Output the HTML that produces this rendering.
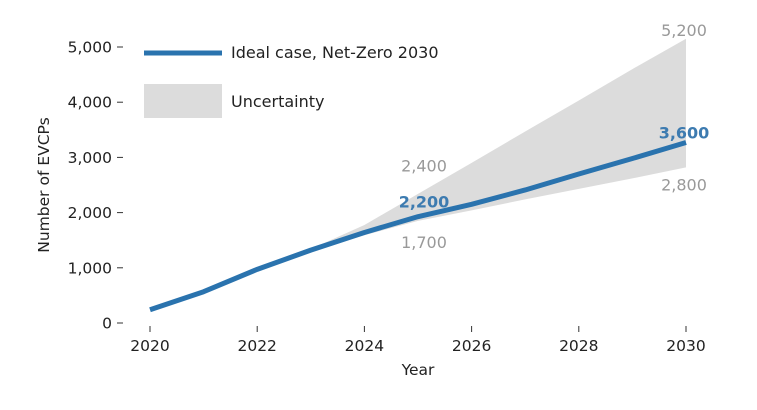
<!DOCTYPE html>
<html><head><meta charset="utf-8"><style>
body{margin:0;background:#fff;}
svg text{font-family:"DejaVu Sans","Liberation Sans",sans-serif;}
</style></head><body>
<svg id="chart" width="757" height="405" xmlns="http://www.w3.org/2000/svg">
<g id="plot"></g>
</svg>
<script>
const years=[2020,2021,2022,2023,2024,2025,2026,2027,2028,2029,2030];
const ideal=[240,567,972,1320,1640,1927,2150,2410,2700,2980,3270];
const upper=[240,567,972,1340,1775,2340,2900,3470,4030,4600,5150];
const lower=[240,567,972,1300,1590,1850,2040,2240,2430,2620,2820];
const yTicks=[0,1000,2000,3000,4000,5000];
const yTickLabels=["0","1,000","2,000","3,000","4,000","5,000"];
const xTicks=[2020,2022,2024,2026,2028,2030];
const annotations=[
 {year:2025,value:2400,text:"2,400",bold:false},
 {year:2025,value:2200,text:"2,200",bold:true},
 {year:2025,value:1700,text:"1,700",bold:false},
 {year:2030,value:5200,text:"5,200",bold:false},
 {year:2030,value:3600,text:"3,600",bold:true},
 {year:2030,value:2800,text:"2,800",bold:false}
];
const annDy=[-25,0,13,-6,8,16];
const X=y=>150+(y-2020)*53.6;
const Y=v=>323-v*0.0552;
const NS="http://www.w3.org/2000/svg";
const g=document.getElementById('plot');
function mk(t,a,txt){const e=document.createElementNS(NS,t);for(const k in a)e.setAttribute(k,a[k]);if(txt!==undefined)e.textContent=txt;g.appendChild(e);return e;}
let d=years.map((y,i)=>(i?'L':'M')+X(y)+','+Y(upper[i])).join('')+years.slice().reverse().map((y,i)=>'L'+X(y)+','+Y(lower[years.length-1-i])).join('')+'Z';
let band=mk('path',{d:d,fill:'#dcdcdc'});


let line=mk('path',{d:years.map((y,i)=>(i?'L':'M')+X(y)+','+Y(ideal[i])).join(''),fill:'none',stroke:'#2a73ae','stroke-width':5,'stroke-linejoin':'round'});


yTicks.forEach((v,i)=>{
 mk('line',{x1:117,x2:123,y1:Y(v),y2:Y(v),stroke:'#333','stroke-width':1});
 let t=mk('text',{x:112,y:Y(v)+5.5,'text-anchor':'end','font-size':15.5,fill:'#222'},yTickLabels[i]);
 
 
});
xTicks.forEach(y=>{
 mk('line',{x1:X(y),x2:X(y),y1:326,y2:332,stroke:'#333','stroke-width':1});
 let t=mk('text',{x:X(y),y:351,'text-anchor':'middle','font-size':15.5,fill:'#222'},String(y));
 
 
});
let xt=mk('text',{x:418,y:375,'text-anchor':'middle','font-size':15.5,fill:'#222'},'Year');


let yt=mk('text',{x:49,y:185,'text-anchor':'middle','font-size':15.5,fill:'#222',transform:'rotate(-90 49 185)'},'Number of EVCPs');


annotations.forEach((a,i)=>{
 let t=mk('text',{x:X(a.year)+(a.year===2030?-2:6),y:Y(a.value)+6+annDy[i],'text-anchor':'middle','font-size':16,'font-weight':a.bold?'bold':'normal',fill:a.bold?'#3d7bb0':'#999'},a.text);
 
 
});
let l1=mk('line',{x1:144,x2:222,y1:53,y2:53,stroke:'#2a73ae','stroke-width':5});


let lt1=mk('text',{x:231,y:58,'font-size':16,fill:'#222'},'Ideal case, Net-Zero 2030');


let l2=mk('rect',{x:144,y:84,width:78,height:34,fill:'#dcdcdc'});


let lt2=mk('text',{x:231,y:107,'font-size':16,fill:'#222'},'Uncertainty');


</script>
</body></html>
